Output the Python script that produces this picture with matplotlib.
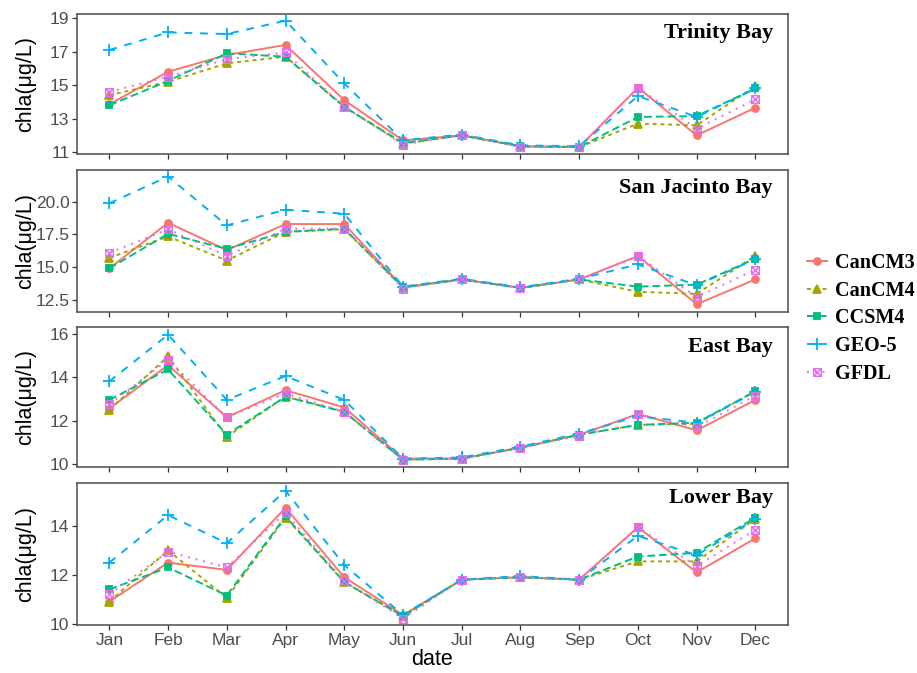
import matplotlib.pyplot as plt
from matplotlib.path import Path
from matplotlib.lines import Line2D

months = ['Jan', 'Feb', 'Mar', 'Apr', 'May', 'Jun', 'Jul', 'Aug', 'Sep', 'Oct', 'Nov', 'Dec']
models = ['CanCM3', 'CanCM4', 'CCSM4', 'GEO-5', 'GFDL']

# Trinity Bay
trinity_cancm3 = [13.85, 15.8, 16.8, 17.4, 14.1, 11.7, 12.0, 11.35, 11.3, 14.85, 12.0, 13.65]
trinity_cancm4 = [14.4, 15.2, 16.3, 16.7, 13.7, 11.5, 12.0, 11.35, 11.3, 12.7, 12.6, 14.95]
trinity_ccsm4 = [13.8, 15.25, 16.9, 16.7, 13.7, 11.55, 12.0, 11.35, 11.3, 13.1, 13.15, 14.8]
trinity_geo5 = [17.1, 18.15, 18.05, 18.85, 15.1, 11.7, 12.05, 11.4, 11.35, 14.35, 13.1, 14.8]
trinity_gfdl = [14.6, 15.5, 16.55, 16.95, 13.7, 11.45, 12.0, 11.3, 11.3, 14.85, 12.4, 14.15]

# San Jacinto Bay
sanjac_cancm3 = [14.9, 18.4, 16.3, 18.3, 18.3, 13.45, 14.05, 13.4, 14.05, 15.85, 12.15, 14.05]
sanjac_cancm4 = [15.7, 17.35, 15.5, 17.7, 17.9, 13.45, 14.05, 13.4, 14.05, 13.1, 12.95, 15.85]
sanjac_ccsm4 = [14.9, 17.55, 16.4, 17.7, 17.95, 13.45, 14.05, 13.4, 14.05, 13.5, 13.65, 15.65]
sanjac_geo5 = [19.9, 21.95, 18.2, 19.4, 19.1, 13.5, 14.1, 13.45, 14.1, 15.2, 13.6, 15.6]
sanjac_gfdl = [16.1, 17.9, 15.85, 17.95, 17.95, 13.35, 14.05, 13.4, 14.05, 15.85, 12.7, 14.8]

# East Bay
east_cancm3 = [12.55, 14.55, 12.15, 13.4, 12.6, 10.25, 10.25, 10.75, 11.35, 12.3, 11.55, 12.95]
east_cancm4 = [12.5, 14.95, 11.25, 13.1, 12.4, 10.2, 10.25, 10.75, 11.35, 11.8, 11.85, 13.35]
east_ccsm4 = [12.95, 14.35, 11.35, 13.1, 12.4, 10.2, 10.25, 10.75, 11.35, 11.8, 11.9, 13.35]
east_geo5 = [13.8, 15.95, 12.95, 14.05, 12.95, 10.25, 10.3, 10.8, 11.4, 12.2, 11.9, 13.3]
east_gfdl = [12.75, 14.8, 12.15, 13.25, 12.4, 10.2, 10.25, 10.75, 11.3, 12.3, 11.7, 13.15]

# Lower Bay
lower_cancm3 = [10.9, 12.5, 12.2, 14.75, 11.9, 10.35, 11.8, 11.9, 11.8, 13.95, 12.1, 13.5]
lower_cancm4 = [10.9, 13.0, 11.05, 14.35, 11.7, 10.3, 11.8, 11.9, 11.8, 12.55, 12.55, 14.3]
lower_ccsm4 = [11.4, 12.3, 11.15, 14.4, 11.7, 10.3, 11.8, 11.9, 11.8, 12.75, 12.9, 14.35]
lower_geo5 = [12.5, 14.45, 13.3, 15.45, 12.4, 10.35, 11.8, 11.95, 11.8, 13.6, 12.8, 14.3]
lower_gfdl = [11.2, 12.95, 12.3, 14.55, 11.75, 10.2, 11.8, 11.9, 11.8, 13.95, 12.35, 13.85]

bays = ['Trinity Bay', 'San Jacinto Bay', 'East Bay', 'Lower Bay']
bay_series = [
    [trinity_cancm3, trinity_cancm4, trinity_ccsm4, trinity_geo5, trinity_gfdl],
    [sanjac_cancm3, sanjac_cancm4, sanjac_ccsm4, sanjac_geo5, sanjac_gfdl],
    [east_cancm3, east_cancm4, east_ccsm4, east_geo5, east_gfdl],
    [lower_cancm3, lower_cancm4, lower_ccsm4, lower_geo5, lower_gfdl],
]
yticks = [[11, 13, 15, 17, 19], [12.5, 15.0, 17.5, 20.0], [10, 12, 14, 16], [10, 12, 14]]
ylims = [(10.88, 19.24), (11.53, 22.43), (9.86, 16.3), (9.93, 15.76)]

# ggplot-like styling
colors = ['#F8766D', '#A3A500', '#00BF7D', '#00B0F6', '#E76BF3']
dashes = ['-', (0, (2, 2)), (0, (4, 2)), (0, (4, 4)), (0, (1, 3))]
boxx = Path([(-1, -1), (1, -1), (1, 1), (-1, 1), (-1, -1), (-1, -1), (1, 1), (-1, 1), (1, -1)],
            [Path.MOVETO, Path.LINETO, Path.LINETO, Path.LINETO, Path.CLOSEPOLY,
             Path.MOVETO, Path.LINETO, Path.MOVETO, Path.LINETO])
markers = ['o', '^', 's', '+', boxx]
msizes = [5, 5.5, 5, 8, 5.5]

tickgray = '#4D4D4D'
sans = 'Liberation Sans'
serif = 'Liberation Serif'

fig = plt.figure(figsize=(9.17, 6.73), dpi=100)
bottoms = [0.771, 0.536, 0.306, 0.071]
heights = [0.208, 0.211, 0.208, 0.211]
title_y = [0.864, 0.873, 0.857, 0.895]
x = list(range(12))

for i in range(4):
    ax = fig.add_axes([0.084, bottoms[i], 0.775, heights[i]])
    for j in range(5):
        ax.plot(x, bay_series[i][j], color=colors[j], linestyle=dashes[j], lw=1.4, zorder=2)
    for j in range(5):
        if j == 4:
            ax.plot(x, bay_series[i][j], linestyle='none', marker=markers[j], ms=msizes[j],
                    mfc='none', mec=colors[j], mew=1.0, zorder=3)
        else:
            ax.plot(x, bay_series[i][j], linestyle='none', marker=markers[j], ms=msizes[j],
                    color=colors[j], mew=1.3, zorder=3)
    ax.set_xlim(-0.55, 11.55)
    ax.set_ylim(*ylims[i])
    ax.set_xticks(x)
    ax.set_yticks(yticks[i])
    if i == 1:
        ax.set_yticklabels(['%.1f' % v for v in yticks[i]])
    if i == 3:
        ax.set_xticklabels(months, fontfamily=sans, fontsize=12.5, color=tickgray)
        ax.set_xlabel('date', fontfamily=sans, fontsize=15.5, labelpad=1)
    else:
        ax.set_xticklabels([])
    for lab in ax.get_yticklabels():
        lab.set_fontfamily(sans)
        lab.set_fontsize(12.5)
        lab.set_color(tickgray)
    ax.tick_params(length=3.5, width=0.9, color='#333333', pad=2)
    for s in ax.spines.values():
        s.set_color('#4d4d4d')
        s.set_linewidth(1.1)
    ax.set_ylabel('chla(\u03bcg/L)', fontfamily=sans, fontsize=15.5)
    ax.yaxis.set_label_coords(-0.058, 0.5)
    ax.text(0.979, title_y[i], bays[i], transform=ax.transAxes, ha='right', va='center',
            fontfamily=serif, fontweight='bold', fontsize=16)

handles = []
for j in range(5):
    if j == 4:
        h = Line2D([], [], color=colors[j], linestyle=dashes[j], lw=1.4, marker=markers[j],
                   ms=msizes[j], mfc='none', mec=colors[j], mew=1.0)
    else:
        h = Line2D([], [], color=colors[j], linestyle=dashes[j], lw=1.4, marker=markers[j],
                   ms=msizes[j], mew=1.3)
    handles.append(h)
fig.legend(handles, models, loc='center left', bbox_to_anchor=(0.876, 0.527), frameon=False,
           prop={'family': serif, 'weight': 'bold', 'size': 14.5}, handlelength=1.0,
           handletextpad=0.35, labelspacing=0.38, borderaxespad=0, borderpad=0.2)

fig.savefig('out.png', dpi=100)
